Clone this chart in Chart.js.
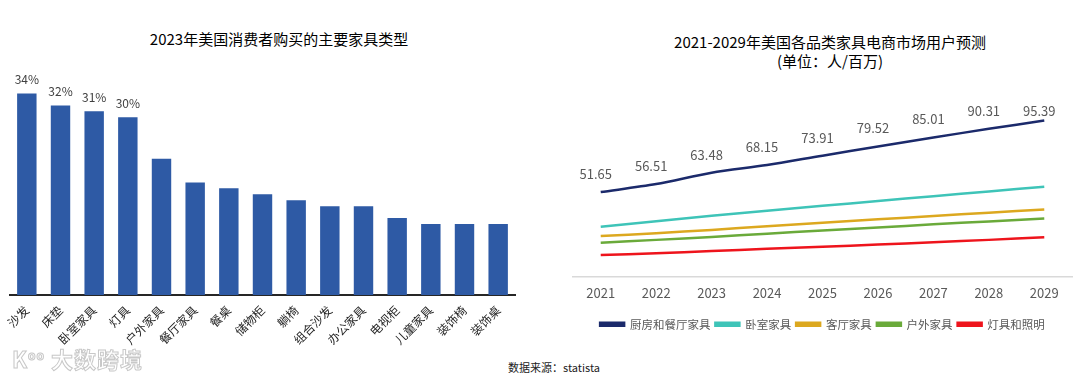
<!DOCTYPE html>
<html><head><meta charset="utf-8">
<script src="https://cdn.jsdelivr.net/npm/chart.js@4/dist/chart.umd.min.js"></script>
<style>
html,body{margin:0;padding:0;background:#fff;width:1080px;height:381px;overflow:hidden;font-family:"Noto Sans CJK SC","Noto Sans",sans-serif;}
.box{position:absolute;}
.title{position:absolute;text-align:center;font-size:15px;line-height:19px;color:#000;white-space:nowrap;transform:translateX(-50%);font-weight:400;}
#src{position:absolute;left:508px;top:359px;font-size:11px;color:#222;white-space:nowrap;}
#wm{position:absolute;left:12px;top:342px;font-size:22px;font-weight:bold;color:#fff;-webkit-text-stroke:1px #c8c8c8;white-space:nowrap;letter-spacing:1px;}
</style></head><body>
<div class="title" style="left:279px;top:29px;">2023年美国消费者购买的主要家具类型</div>
<div class="title" style="left:830px;top:32px;">2021-2029年美国各品类家具电商市场用户预测<br>(单位：人/百万)</div>
<div class="box" style="left:0;top:0;width:540px;height:350px;"><canvas id="c1"></canvas></div>
<div class="box" style="left:560px;top:0;width:520px;height:340px;"><canvas id="c2"></canvas></div>
<div id="wm">K<sup style="font-size:12px">oo</sup> 大数跨境</div>
<div id="src">数据来源：statista</div>
<script>
// ---- Left chart data ----
const barCategories = ['沙发','床垫','卧室家具','灯具','户外家具','餐厅家具','餐桌','储物柜','躺椅','组合沙发','办公家具','电视柜','儿童家具','装饰椅','装饰桌'];
const barValues = [34,32,31,30,23,19,18,17,16,15,15,13,12,12,12];
const barValueLabels = ['34%','32%','31%','30%'];

// ---- Right chart data ----
const years = ['2021','2022','2023','2024','2025','2026','2027','2028','2029'];
const kitchenDining = [51.65,56.51,63.48,68.15,73.91,79.52,85.01,90.31,95.39];
const bedroom = [30.4,33.8,37.1,40.2,43.2,46.2,49.1,52.0,54.9];
const livingRoom = [24.7,26.5,28.5,30.7,32.9,35.0,37.0,39.0,41.0];
const outdoor = [20.6,22.4,24.2,26.2,28.2,30.0,31.9,33.7,35.5];
const lighting = [13.1,14.2,15.6,16.9,18.2,19.5,20.9,22.4,24.0];
const seriesNames = ['厨房和餐厅家具','卧室家具','客厅家具','户外家具','灯具和照明'];
const kitchenLabels = kitchenDining.map(v => v.toFixed(2));

const FONT = '"Noto Sans CJK SC","Noto Sans",sans-serif';
Chart.defaults.font.family = FONT;

const barLabelPlugin = {
  id: 'barLabels',
  afterDatasetsDraw(chart) {
    const ctx = chart.ctx;
    const meta = chart.getDatasetMeta(0);
    ctx.save();
    ctx.font = '12px ' + FONT;
    ctx.fillStyle = '#404040';
    ctx.textAlign = 'center';
    ctx.textBaseline = 'middle';
    barValueLabels.forEach((t, i) => {
      const el = meta.data[i];
      ctx.fillText(t, el.x, el.y - 14);
    });
    ctx.restore();
  }
};

new Chart(document.getElementById('c1'), {
  type: 'bar',
  data: {
    labels: barCategories,
    datasets: [{
      data: barValues,
      backgroundColor: '#2e5aa5',
      borderWidth: 0,
      categoryPercentage: 1,
      barPercentage: 0.577
    }]
  },
  options: {
    responsive: true,
    maintainAspectRatio: false,
    animation: false,
    layout: { padding: { left: 10, right: 25, top: 58, bottom: 0 } },
    plugins: { legend: { display: false }, tooltip: { enabled: false } },
    scales: {
      x: {
        grid: { display: false },
        border: { display: true, color: '#262626', width: 2 },
        ticks: { minRotation: 45, maxRotation: 45, autoSkip: false, color: '#262626', font: { size: 12 }, padding: 0 },
        afterFit(s) { s.height = 55; }
      },
      y: { display: false, min: 0, max: 40 }
    }
  },
  plugins: [barLabelPlugin]
});

const lineLabelPlugin = {
  id: 'lineLabels',
  afterDatasetsDraw(chart) {
    const ctx = chart.ctx;
    const meta = chart.getDatasetMeta(0);
    const top = chart.chartArea.top;
    ctx.save();
    ctx.font = '13px ' + FONT;
    ctx.fillStyle = '#595959';
    ctx.textAlign = 'center';
    ctx.textBaseline = 'middle';
    kitchenLabels.forEach((t, i) => {
      const el = meta.data[i];
      ctx.fillText(t, el.x - 5, Math.max(el.y - 18, top - 2));
    });
    ctx.restore();
  }
};

const colors = ['#1b2a6b','#3ec4b8','#dca81f','#6aaa3a','#ee141c'];
const seriesData = [kitchenDining, bedroom, livingRoom, outdoor, lighting];

new Chart(document.getElementById('c2'), {
  type: 'line',
  data: {
    labels: years,
    datasets: seriesData.map((d, i) => ({
      label: seriesNames[i],
      data: d,
      borderColor: colors[i],
      backgroundColor: colors[i],
      borderWidth: 2.5,
      pointRadius: 0,
      tension: i === 0 ? 0.3 : 0.1,
      fill: false
    }))
  },
  options: {
    responsive: true,
    maintainAspectRatio: false,
    animation: false,
    layout: { padding: { left: 13, right: 8, top: 113, bottom: 0 } },
    plugins: {
      tooltip: { enabled: false },
      legend: {
        position: 'bottom',
        labels: { boxWidth: 24, boxHeight: 3, padding: 5, color: '#595959', font: { size: 11.5 } }
      }
    },
    scales: {
      x: {
        offset: true,
        grid: { display: false },
        border: { display: true, color: '#d9d9d9', width: 1.5 },
        ticks: { color: '#595959', font: { size: 13 }, padding: 1 },
        afterFit(s) { s.height = 37; }
      },
      y: { display: false, min: 0, max: 100 }
    }
  },
  plugins: [lineLabelPlugin]
});
</script>
</body></html>
